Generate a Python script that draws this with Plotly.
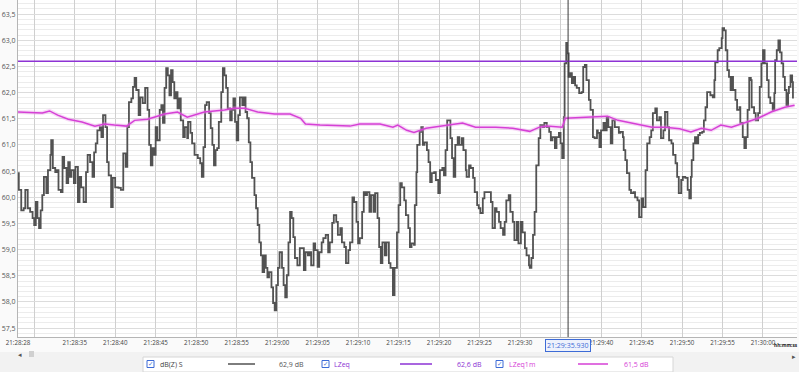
import pandas as pd
import plotly.graph_objects as go

# ---------------- data ----------------
START = "2023-01-01 21:28:28"
CURSOR_S = 67.93          # 21:29:35.930 in seconds after start
LZEQ = 62.6               # constant LZeq level
CURSOR_VALUES = {"dB(Z) S": 62.9, "LZeq": 62.6, "LZeq1m": 61.5}

# dB(Z) S  (seconds after 21:28:28, level dB)
S_T = [0.0,0.1,0.4,0.7,0.9,1.2,1.5,1.8,2.0,2.2,2.4,2.6,2.8,3.0,3.2,3.5,3.7,4.0,4.1,4.3,4.6,4.8,5.0,5.3,5.5,5.7,6.0,6.2,6.4,6.6,6.9,7.1,7.4,7.6,7.8,8.1,8.4,8.6,8.9,9.2,9.4,9.6,9.8,10.1,10.3,10.5,10.8,11.0,11.2,11.5,11.7,12.0,12.4,12.7,13.0,13.3,13.5,13.7,14.0,14.2,14.4,14.6,14.9,15.1,15.4,15.7,16.0,16.2,
       16.4,16.6,16.8,17.0,17.2,17.5,17.7,17.9,18.1,18.3,18.5,18.7,18.9,19.1,19.3,19.5,19.7,19.9,20.1,20.4,20.6,20.9,21.0,21.3,21.5,21.8,22.2,22.5,22.7,22.9,23.1,23.3,23.6,23.8,24.0,24.2,24.4,24.6,24.8,25.1,25.3,25.5,25.7,25.9,26.2,26.4,26.6,26.8,27.0,27.2,27.4,27.7,27.9,28.1,28.3,28.5,28.7,28.9,29.2,29.4,29.6,29.8,30.0,30.2,30.4,30.6,30.8,31.0,31.3,31.5,31.7,31.9,32.1,32.3,
       32.6,32.8,33.0,33.2,33.4,33.6,33.8,34.0,34.2,34.5,34.8,35.0,35.3,35.5,35.8,36.0,36.2,36.5,36.7,37.0,37.2,37.5,37.7,38.0,38.3,38.5,38.8,39.0,39.3,39.5,39.8,40.0,40.3,40.5,40.8,41.0,41.3,41.5,41.8,42.0,42.2,42.5,42.7,42.9,43.1,43.4,43.6,43.9,44.1,44.4,44.6,44.8,45.0,45.3,45.5,45.8,46.0,46.3,46.5,46.8,47.0,47.2,47.4,47.7,47.9,48.2,48.4,48.6,48.9,
       49.0,49.2,49.3,49.6,49.8,50.0,50.2,50.5,50.7,50.9,51.1,51.4,51.6,51.9,52.1,52.4,52.6,52.8,53.0,53.2,53.4,53.6,53.8,54.0,54.3,54.5,54.8,55.0,55.3,55.4,55.7,55.9,56.2,56.4,56.7,56.9,57.1,57.4,57.6,57.9,58.1,58.4,58.6,58.9,59.1,59.4,59.6,59.9,60.1,60.3,60.6,60.8,61.1,61.3,61.6,61.8,62.1,62.3,62.6,62.8,63.1,63.2,63.4,63.6,63.8,64.0,64.3,64.5,64.8,65.0,65.3,
       65.6,65.8,66.0,66.3,66.5,66.8,67.0,67.2,67.4,67.5,67.7,67.8,68.0,68.2,68.4,68.6,68.8,69.0,69.3,69.6,69.8,70.0,70.2,70.5,70.7,71.0,71.2,71.5,71.6,71.8,72.0,72.3,72.5,72.7,72.9,73.2,73.4,73.7,73.9,74.2,74.4,74.7,74.8,75.0,75.2,75.5,75.7,76.0,76.2,76.5,76.7,77.0,77.2,77.5,77.7,78.0,78.2,78.4,78.7,78.9,79.2,79.4,79.7,79.9,80.2,80.4,80.7,80.9,81.2,81.4,81.6,
       81.9,82.1,82.4,82.7,82.9,83.1,83.2,83.4,83.6,83.8,84.0,84.2,84.5,84.7,84.9,85.1,85.3,85.5,85.8,86.0,86.1,86.4,86.6,86.9,87.0,87.2,87.4,87.6,87.8,88.0,88.2,88.3,88.6,88.8,89.1,89.2,89.5,89.7,89.9,90.1,90.3,90.5,90.6,90.9,91.1,91.4,91.6,91.8,92.0,92.2,92.5,92.7,92.9,93.2,93.4,93.5,93.7,93.9,94.1,94.3,94.5,94.7,94.9,95.1,95.2,95.4,95.6,95.7]
S_V = [60.46,60.14,59.75,59.79,60.14,59.79,59.72,59.60,59.47,59.91,59.60,59.41,59.75,60.04,60.39,60.08,60.52,60.81,61.09,60.56,60.48,60.52,60.14,60.10,60.77,60.56,60.27,60.67,60.39,60.52,60.27,60.58,59.91,60.39,60.19,59.91,60.48,60.81,60.67,60.39,60.86,61.03,61.28,61.34,61.15,61.57,61.34,60.67,60.42,59.81,60.37,60.19,60.18,60.14,60.84,60.58,61.34,61.82,61.89,62.11,62.28,62.05,61.57,61.91,61.80,62.09,61.67,61.00,
       60.61,60.94,60.81,61.34,61.09,61.67,61.76,61.42,62.09,62.47,62.33,61.95,62.43,62.20,61.89,62.01,61.70,61.89,61.47,61.15,61.34,61.13,61.44,61.23,61.03,60.81,60.75,60.65,60.39,60.96,61.76,61.82,61.61,61.32,61.00,60.61,60.90,60.94,61.44,62.01,62.47,62.33,62.09,61.70,61.47,61.67,61.89,61.44,61.09,61.57,61.91,61.76,61.91,61.63,61.51,61.05,60.67,60.37,60.04,59.79,59.47,59.14,58.89,58.57,58.89,58.65,58.47,58.57,58.28,57.98,57.84,58.32,58.65,58.95,
       58.65,58.32,58.09,58.51,59.14,59.72,59.60,59.24,58.84,58.70,59.03,59.03,58.61,58.95,58.89,58.95,58.70,59.12,58.99,58.67,58.95,59.14,59.22,59.28,58.95,59.14,59.51,59.66,59.53,59.28,59.41,59.14,59.05,58.74,58.99,59.14,60.00,59.91,59.53,59.12,59.22,59.72,60.10,60.04,60.10,59.72,60.04,59.72,60.08,59.60,59.05,58.74,59.14,58.89,59.14,58.74,58.65,58.13,58.65,59.33,59.85,60.27,60.19,59.94,59.66,59.41,59.05,59.12,59.09,
       59.85,60.48,61.00,61.25,61.34,61.00,61.05,60.90,60.67,60.29,60.46,60.48,60.33,60.08,60.52,60.56,60.42,60.90,61.47,61.47,61.13,60.75,60.39,61.00,61.15,61.00,61.13,60.90,60.52,60.39,60.61,60.56,60.37,60.10,59.85,59.79,59.70,59.98,60.10,60.10,60.10,59.91,59.41,59.79,59.72,59.53,59.41,59.28,59.53,59.94,60.04,59.72,59.53,59.18,59.53,59.12,59.53,59.33,59.03,58.89,58.70,58.65,58.84,59.28,59.72,60.61,61.13,61.38,61.34,61.42,61.34,
       61.25,61.09,61.15,60.94,61.15,61.23,61.03,60.75,61.53,62.56,62.95,62.75,62.30,62.37,62.18,62.30,62.14,62.09,61.99,62.01,62.49,62.53,62.24,61.86,61.67,61.15,61.13,61.28,61.23,60.96,61.28,61.42,61.28,61.53,61.34,61.03,61.47,61.34,61.34,61.23,61.25,61.15,60.90,60.71,60.46,60.14,60.08,60.10,60.00,59.94,59.62,59.98,59.81,60.52,61.03,61.15,61.28,61.61,61.70,61.47,61.53,61.13,61.28,61.63,61.34,61.09,61.03,60.81,60.65,60.39,60.08,
       60.33,60.39,60.37,60.14,59.98,60.39,60.71,61.03,61.15,61.03,61.19,61.23,61.25,61.47,61.72,62.01,62.01,61.95,61.91,62.24,62.58,62.81,62.85,63.04,63.23,63.19,62.81,62.43,62.30,62.05,62.30,62.05,61.86,61.67,61.72,61.42,61.15,60.94,61.15,61.67,62.28,62.24,61.72,61.61,61.47,61.61,62.11,62.56,62.81,62.56,62.24,61.91,61.80,61.67,61.99,62.62,62.81,63.00,62.77,62.56,62.30,62.05,61.76,61.99,62.11,62.33,62.20,61.89]

# LZeq1m
M_T = [0,2.1,3.0,3.9,4.9,6.2,7.9,9.5,10.7,11.9,13.4,14.4,16.0,18.1,19.7,20.9,23.0,25.5,26.7,28.0,29.6,31.7,33.6,34.9,35.5,37.3,41.0,42.2,44.7,46.3,46.9,48.0,48.9,50.4,52.8,54.9,56.5,59.0,61.1,63.2,64.4,65.3,67.2,67.6,70.1,72.8,74.1,76.6,78.3,79.9,81.7,83.1,84.4,85.6,86.8,88.1,89.8,91.4,93.0,94.7,95.9]
M_V = [61.63,61.61,61.61,61.65,61.57,61.49,61.44,61.36,61.40,61.38,61.36,61.47,61.49,61.59,61.63,61.53,61.63,61.67,61.70,61.70,61.63,61.59,61.59,61.51,61.40,61.38,61.36,61.40,61.40,61.34,61.38,61.28,61.24,61.32,61.38,61.42,61.34,61.34,61.32,61.26,61.34,61.36,61.34,61.51,61.53,61.55,61.47,61.40,61.34,61.34,61.31,61.25,61.32,61.28,61.38,61.34,61.42,61.51,61.63,61.72,61.76]

END_S = 96.2
Y_TICKS = [57.5, 58.0, 58.5, 59.0, 59.5, 60.0, 60.5, 61.0, 61.5, 62.0, 62.5, 63.0, 63.5]
Y_RANGE = [57.33, 63.77]

# ---------------- helpers ----------------
t0 = pd.Timestamp(START)
def ts(sec):
    return t0 + pd.to_timedelta(sec, unit="s")

W, H = 799, 372
ML, MR, MT, MB = 18, 2, 0, 35
PW, PH = W - ML - MR, H - MT - MB
def px(X):  # pixel -> paper x
    return (X - ML) / PW
def py(Y):  # pixel -> paper y
    return (H - MB - Y) / PH

C_S = "#525252"
C_EQ = "#8d33d4"
C_1M = "#d640d6"
C_BLUE = "#3d6bd6"
FONT = "Open Sans"

fig = go.Figure()
fig.add_trace(go.Scatter(x=ts(pd.Series(S_T)), y=S_V, mode="lines",
                         line=dict(color=C_S, width=1.8, shape="hv"), name="dB(Z) S"))
fig.add_trace(go.Scatter(x=[ts(0), ts(END_S)], y=[LZEQ, LZEQ], mode="lines",
                         line=dict(color=C_EQ, width=1.6), name="LZeq"))
fig.add_trace(go.Scatter(x=ts(pd.Series(M_T)), y=M_V, mode="lines",
                         line=dict(color="rgba(235,150,235,0.35)", width=4), hoverinfo="skip"))
fig.add_trace(go.Scatter(x=ts(pd.Series(M_T)), y=M_V, mode="lines",
                         line=dict(color=C_1M, width=1.5), name="LZeq1m"))

# x ticks
tick_s = [0] + list(range(2, 93, 5))
tick_text = []
for s in tick_s:
    if s == 2 or abs(s - CURSOR_S) < 1:
        tick_text.append("")
    else:
        tick_text.append(ts(s).strftime("%H:%M:%S"))

cursor = ts(CURSOR_S)
shapes = [
    dict(type="line", xref="x", yref="paper", x0=cursor, x1=cursor, y0=0, y1=1,
         line=dict(color="#3a3a3a", width=1)),
    # bottom band & legend box
    dict(type="rect", xref="paper", yref="paper", x0=px(0), x1=px(W), y0=py(352), y1=py(H),
         fillcolor="#f2f2f2", line=dict(width=0), layer="below"),
    dict(type="rect", xref="paper", yref="paper", x0=px(143), x1=px(673), y0=py(357), y1=py(372),
         fillcolor="#ffffff", line=dict(color="#d6d6d6", width=1)),
    dict(type="rect", xref="paper", yref="paper", x0=px(29), x1=px(34), y0=py(351), y1=py(357),
         fillcolor="#d0d0d0", line=dict(width=0)),
]
annotations = [
    dict(xref="x", yref="paper", x=cursor, y=py(338.5), yanchor="top", xanchor="center",
         text="21:29:35.930", showarrow=False, font=dict(family=FONT, size=7, color=C_BLUE),
         bgcolor="#eef2fc", bordercolor=C_BLUE, borderwidth=1, borderpad=1),
    dict(xref="paper", yref="paper", x=px(799.5), y=py(340), yanchor="top", xanchor="right",
         text="<b>hh:mm:ss</b>", showarrow=False, font=dict(family=FONT, size=4.8, color="#222")),
    dict(xref="paper", yref="paper", x=px(20), y=py(355), yanchor="middle", xanchor="center",
         text="◂", showarrow=False, font=dict(family="DejaVu Sans", size=7, color="#555")),
    dict(xref="paper", yref="paper", x=px(794), y=py(357), yanchor="middle", xanchor="center",
         text="▸", showarrow=False, font=dict(family="DejaVu Sans", size=7, color="#555")),
]

legend_items = [
    ("dB(Z) S", C_S, "#444", 147, 158, 228, 255, 277),
    ("LZeq", C_EQ, C_EQ, 322, 332, 400, 432, 455),
    ("LZeq1m", C_1M, C_1M, 496, 507, 578, 608, 622),
]
ly = 364
for name, lc, tc, cbx, tx, l0, l1, vx in legend_items:
    shapes.append(dict(type="rect", xref="paper", yref="paper", x0=px(cbx), x1=px(cbx + 7),
                       y0=py(ly - 3.5), y1=py(ly + 3.5), fillcolor="#ffffff",
                       line=dict(color=C_BLUE, width=1)))
    annotations.append(dict(xref="paper", yref="paper", x=px(cbx + 3.5), y=py(ly), text="✓",
                            showarrow=False, xanchor="center", yanchor="middle",
                            font=dict(family="DejaVu Sans", size=6.5, color=C_BLUE)))
    annotations.append(dict(xref="paper", yref="paper", x=px(tx), y=py(ly), text=name,
                            showarrow=False, xanchor="left", yanchor="middle",
                            font=dict(family=FONT, size=7, color=tc)))
    shapes.append(dict(type="line", xref="paper", yref="paper", x0=px(l0), x1=px(l1),
                       y0=py(ly), y1=py(ly), line=dict(color=lc, width=1.5)))
    val = f"{CURSOR_VALUES[name]:.1f}".replace(".", ",") + " dB"
    annotations.append(dict(xref="paper", yref="paper", x=px(vx), y=py(ly), text=val,
                            showarrow=False, xanchor="left", yanchor="middle",
                            font=dict(family=FONT, size=7, color="#555" if tc == "#444" else tc)))

fig.update_layout(
    width=W, height=H, margin=dict(l=ML, r=MR, t=MT, b=MB),
    paper_bgcolor="#fafafa", plot_bgcolor="#ffffff",
    separators=", ", showlegend=False,
    font=dict(family=FONT, size=7, color="#444"),
    shapes=shapes, annotations=annotations,
    xaxis=dict(type="date", range=[ts(0), ts(END_S)],
               tickvals=[ts(s) for s in tick_s], ticktext=tick_text,
               showgrid=True, gridcolor="#cfcfcf", gridwidth=1,
               tickfont=dict(family=FONT, size=6.2, color="#444"),
               ticks="", showline=True, linecolor="#b5b5b5", zeroline=False),
    yaxis=dict(range=Y_RANGE, tickvals=Y_TICKS, tickformat=".1f",
               showgrid=True, gridcolor="#dcdcdc", gridwidth=1,
               minor=dict(dtick=0.1, tick0=57.5, showgrid=True, gridcolor="#ececec"),
               tickfont=dict(family=FONT, size=7, color="#555"),
               ticks="", showline=True, linecolor="#b5b5b5", zeroline=False),
)

fig.write_html("out.html")
